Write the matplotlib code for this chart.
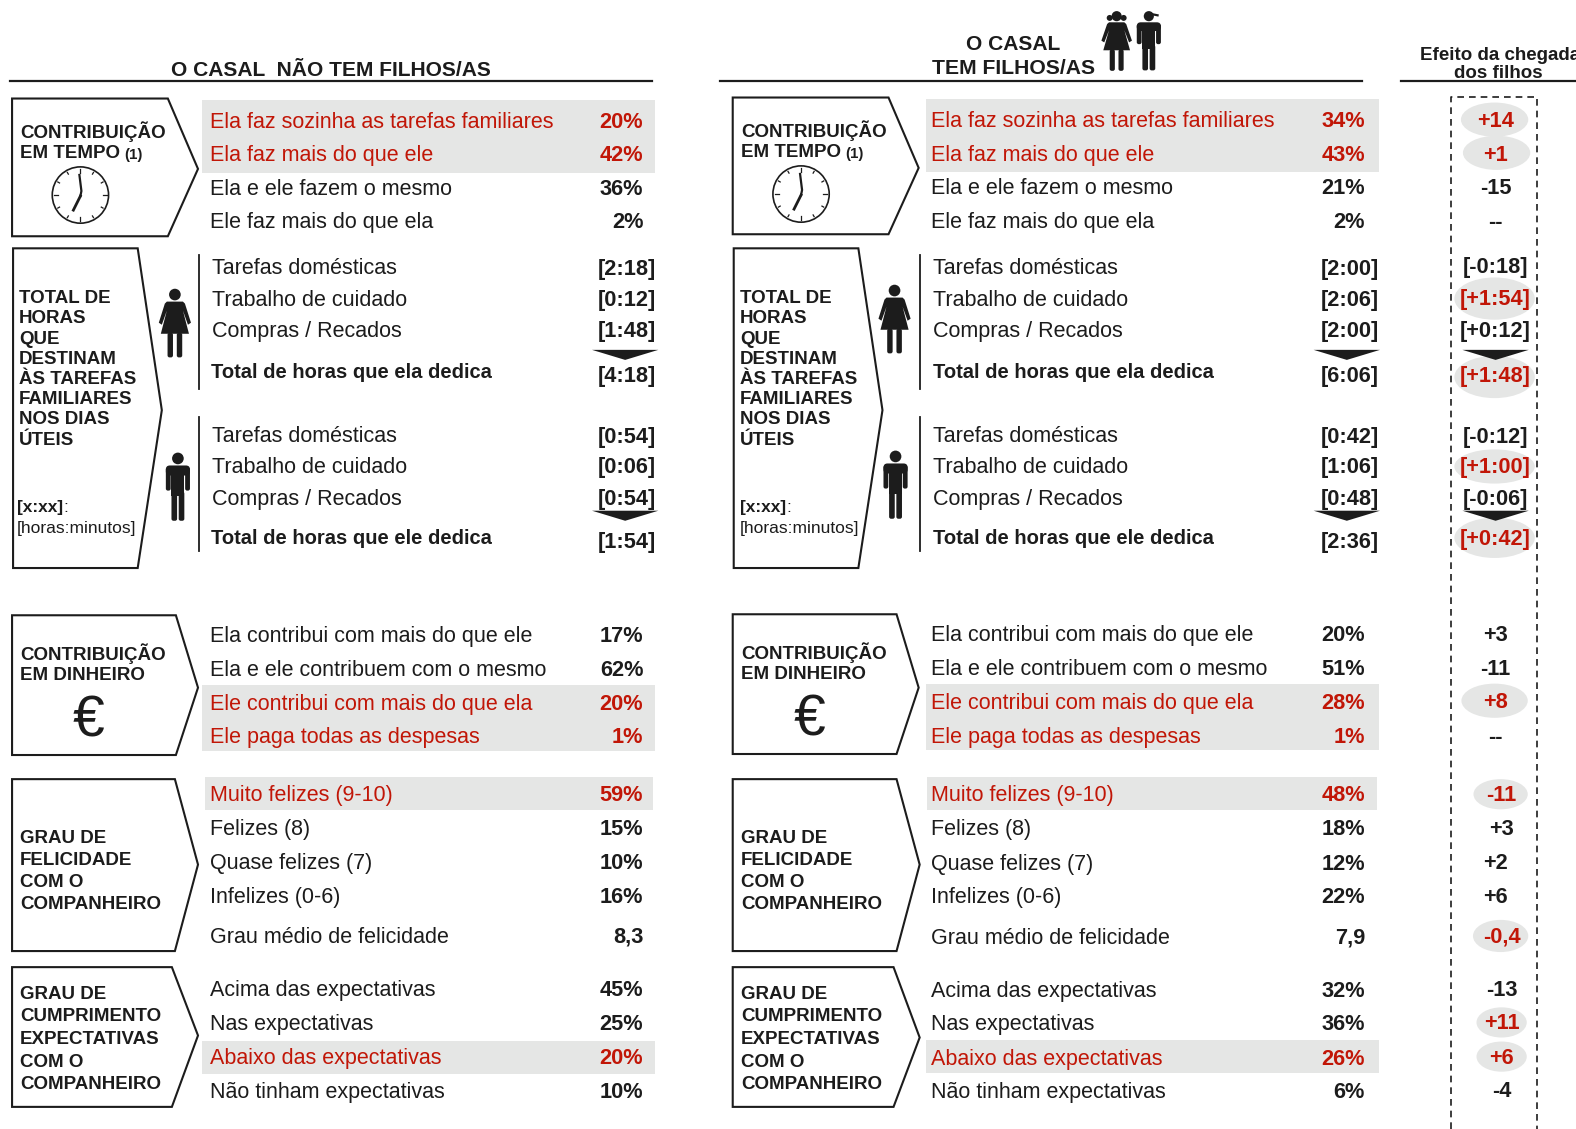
from matplotlib import pyplot as plt
from matplotlib.patches import Polygon, Circle, Ellipse, Rectangle, FancyBboxPatch
import numpy as np

# text of each block
time_labels = ["Ela faz sozinha as tarefas familiares", "Ela faz mais do que ele",
               "Ela e ele fazem o mesmo", "Ele faz mais do que ela"]
time_none = ["20%", "42%", "36%", "2%"]
time_kids = ["34%", "43%", "21%", "2%"]
time_effect = ["+14", "+1", "-15", "--"]

hours_labels = ["Tarefas domésticas", "Trabalho de cuidado", "Compras / Recados"]
she_none = ["[2:18]", "[0:12]", "[1:48]", "[4:18]"]
she_kids = ["[2:00]", "[2:06]", "[2:00]", "[6:06]"]
she_effect = ["[-0:18]", "[+1:54]", "[+0:12]", "[+1:48]"]
he_none = ["[0:54]", "[0:06]", "[0:54]", "[1:54]"]
he_kids = ["[0:42]", "[1:06]", "[0:48]", "[2:36]"]
he_effect = ["[-0:12]", "[+1:00]", "[-0:06]", "[+0:42]"]

money_labels = ["Ela contribui com mais do que ele", "Ela e ele contribuem com o mesmo",
                "Ele contribui com mais do que ela", "Ele paga todas as despesas"]
money_none = ["17%", "62%", "20%", "1%"]
money_kids = ["20%", "51%", "28%", "1%"]
money_effect = ["+3", "-11", "+8", "--"]

happy_labels = ["Muito felizes (9-10)", "Felizes (8)", "Quase felizes (7)",
                "Infelizes (0-6)", "Grau médio de felicidade"]
happy_none = ["59%", "15%", "10%", "16%", "8,3"]
happy_kids = ["48%", "18%", "12%", "22%", "7,9"]
happy_effect = ["-11", "+3", "+2", "+6", "-0,4"]

expect_labels = ["Acima das expectativas", "Nas expectativas",
                 "Abaixo das expectativas", "Não tinham expectativas"]
expect_none = ["45%", "25%", "20%", "10%"]
expect_kids = ["32%", "36%", "26%", "6%"]
expect_effect = ["-13", "+11", "+6", "-4"]

RED = "#C11607"
BLACK = "#1c1c1c"
GREY = "#E5E6E5"
ROW = 15.5
VAL = 15.7
TOTAL = 14.5
BOX = 13.5

plt.rcParams["font.family"] = ["Liberation Sans", "DejaVu Sans"]
fig = plt.figure(figsize=(15.76, 11.29), dpi=100)
ax = fig.add_axes([0, 0, 1, 1])
ax.set_xlim(0, 1568)
ax.set_ylim(1123, 0)
ax.axis("off")


def put(x, y, s, size=ROW, color=BLACK, weight="normal", ha="left"):
    ax.text(x, y, s, fontsize=size, color=color, fontweight=weight, ha=ha, va="center", zorder=4)


def band(x0, x1, y0, y1):
    ax.add_patch(Rectangle((x0, y0), x1 - x0, y1 - y0, fc=GREY, ec="none", zorder=0))


def rows(x, xv, ys, labels, values, red=(), bold_label=(), value_ys=None):
    value_ys = value_ys or ys
    for i, (lab, val) in enumerate(zip(labels, values)):
        c = RED if i in red else BLACK
        if i in bold_label:
            put(x, ys[i] + 1, lab, size=TOTAL, color=c, weight="bold")
        else:
            put(x + 0.5, ys[i] + 1.5, lab, color=c)
        put(xv + 1, value_ys[i] + 1.5, val, size=VAL, color=c, weight="bold", ha="right")


def effects(ys, values, xs, red=()):
    for i, val in enumerate(values):
        put(xs[i], ys[i] + 1.5, val, size=VAL, color=RED if i in red else BLACK, weight="bold", ha="center")


def box(x0, x1, xt, y0, y1, ytip):
    ax.add_patch(Polygon([(x0, y0), (x1, y0), (xt, ytip), (x1, y1), (x0, y1)],
                         closed=True, fc="white", ec=BLACK, lw=1.5, zorder=1))


def box_text(x, y, lines, step):
    for i, s in enumerate(lines):
        put(x, y + i * step, s, size=BOX, weight="bold")


def clock(cx, cy, r=28):
    ax.add_patch(Circle((cx, cy), r, fc="white", ec=BLACK, lw=1.2, zorder=2))
    for a in np.arange(0, 360, 30):
        t = np.radians(a)
        r0 = r - (6 if a % 90 == 0 else 4)
        ax.plot([cx + r0 * np.sin(t), cx + (r - 2) * np.sin(t)],
                [cy - r0 * np.cos(t), cy - (r - 2) * np.cos(t)], color=BLACK, lw=0.9, zorder=3)
    ax.plot([cx - 1, cx + 1, cx], [cy - 20, cy - 4, cy + 1], color=BLACK, lw=1.6, zorder=3)
    ax.plot([cx, cx - 7], [cy + 1, cy + 15], color=BLACK, lw=2, zorder=3)


def person_legs(cx, top, s, gap, width):
    for sign in (-1, 1):
        x = cx + sign * gap - width / 2
        ax.add_patch(FancyBboxPatch((x, top), width, s, boxstyle="round,pad=0,rounding_size=2",
                                    fc=BLACK, ec="none", zorder=3))


def woman(cx, top, k=1.0, w=1.0, pigtails=False):
    ax.add_patch(Circle((cx, top + 7 * k), 5.8 * k, fc=BLACK, ec="none", zorder=3))
    if pigtails:
        for sign in (-1, 1):
            ax.add_patch(Circle((cx + sign * 8 * k, top + 9 * k), 3.4 * k, fc=BLACK, ec="none", zorder=3))
    p = [(-8, 14), (8, 14), (10, 16), (16, 35), (13, 37), (8, 23), (14, 46), (-14, 46),
         (-8, 23), (-13, 37), (-16, 35), (-10, 16)]
    ax.add_patch(Polygon([(cx + a * w, top + b * k) for a, b in p], closed=True, fc=BLACK, ec="none", zorder=3))
    person_legs(cx, top + 45 * k, 24.5 * k, 4.6 * w, 5.4 * w)


def man(cx, top, k=1.0, w=1.0, cap=False):
    ax.add_patch(Circle((cx, top + 7 * k), 5.8 * k, fc=BLACK, ec="none", zorder=3))
    if cap:
        ax.plot([cx, cx + 10 * k], [top + 4 * k, top + 6 * k], color=BLACK, lw=1.6, zorder=3)
    ax.add_patch(FancyBboxPatch((cx - 12 * w, top + 14 * k), 24 * w, 10 * k,
                                boxstyle="round,pad=0,rounding_size=4", fc=BLACK, ec="none", zorder=3))
    for sign in (-1, 1):
        x = cx + sign * 9.6 * w - 2.4 * w
        ax.add_patch(FancyBboxPatch((x, top + 16 * k), 4.8 * w, 23 * k,
                                    boxstyle="round,pad=0,rounding_size=2", fc=BLACK, ec="none", zorder=3))
    ax.add_patch(Rectangle((cx - 6.4 * w, top + 16 * k), 12.8 * w, 28 * k, fc=BLACK, ec="none", zorder=3))
    person_legs(cx, top + 40 * k, 29 * k, 3.6 * w, 5.6 * w)


def chevron(cx, y, w):
    ax.add_patch(Polygon([(cx - w / 2, y), (cx + w / 2, y), (cx, y + 10)],
                         closed=True, fc=BLACK, ec="none", zorder=3))


# headers
put(329, 70.5, "O CASAL  NÃO TEM FILHOS/AS", size=15.1, weight="bold", ha="center")
put(1008, 44, "O CASAL", size=15.1, weight="bold", ha="center")
put(1008, 68, "TEM FILHOS/AS", size=15.2, weight="bold", ha="center")
put(1413, 55, "Efeito da chegada", size=13.5, weight="bold")
put(1491, 73, "dos filhos", size=13.5, weight="bold", ha="center")
for x0, x1 in [(10, 649), (716, 1355), (1394, 1568)]:
    ax.plot([x0, x1], [81, 81], color=BLACK, lw=1.6)
woman(1111, 10, k=0.87, w=0.95, pigtails=True)
man(1143, 10, k=0.87, w=1.0, cap=True)

# grey bands
for y0, y1 in [(99, 172), (681, 747), (1035, 1068)]:
    band(201, 652, y0, y1)
band(204, 650, 773, 806)
for y0, y1 in [(98, 171), (680, 746), (1034, 1067)]:
    band(921, 1372, y0, y1)
band(922, 1370, 773, 806)

# left column
box(12, 167, 197, 98, 235, 168)
box(13, 137, 161, 247, 565, 408)
box(12, 175, 197, 612, 751, 684)
box(12, 174, 197, 775, 946, 860)
box(12, 171, 197, 962, 1101, 1030)
# right column
box(729, 884, 914, 97, 233, 167)
box(730, 854, 878, 247, 565, 408)
box(729, 892, 914, 611, 750, 684)
box(729, 892, 915, 775, 946, 860)
box(729, 889, 915, 962, 1101, 1032)

for dx, dy in [(0, 0), (717, -1)]:
    put(20 + dx, 131 + dy, "CONTRIBUIÇÃO", size=BOX, weight="bold")
    put(20 + dx, 153 + dy, "EM TEMPO", size=BOX, weight="bold")
    put(124 + dx, 154 + dy, "(1)", size=10.8, weight="bold")
    clock(80 + dx, 194 + dy)
    box_text(19 + dx, 297,
             ["TOTAL DE", "HORAS", "QUE", "DESTINAM", "ÀS TAREFAS", "FAMILIARES", "NOS DIAS", "ÚTEIS"], 20.1)
    put(17 + dx + (2 if dx else 0), 505, "[x:xx]", size=12.4, weight="bold")
    put(63 + dx + (2 if dx else 0), 505, ":", size=12.4)
    put(17 + dx + (2 if dx else 0), 526, "[horas:minutos]", size=12.5)
    box_text(20 + dx, 650 + (0 if not dx else -1), ["CONTRIBUIÇÃO", "EM DINHEIRO"], 21.5)
    put(88 + dx, 718 + dy, "€", size=41, ha="center")
    box_text(20 + dx, 834, ["GRAU DE", "FELICIDADE", "COM O", "COMPANHEIRO"], 22)
    box_text(20 + dx, 989, ["GRAU DE", "CUMPRIMENTO", "EXPECTATIVAS", "COM O", "COMPANHEIRO"], 22.5)

# contributions in time
rows(208, 639, [120, 153, 187, 220], time_labels, time_none, red=(0, 1))
rows(926, 1357, [119, 153, 186, 220], time_labels, time_kids, red=(0, 1))

# hours
hy_she = [266, 297, 328, 370]
hy_she_v = [267, 297, 328, 373]
hy_he = [433, 464, 495, 535]
hy_he_v = [434, 464, 495, 538]
she_labels = hours_labels + ["Total de horas que ela dedica"]
he_labels = hours_labels + ["Total de horas que ele dedica"]
rows(210, 652, hy_she, she_labels, she_none, bold_label=(3,), value_ys=hy_she_v)
rows(210, 652, hy_he, he_labels, he_none, bold_label=(3,), value_ys=hy_he_v)
rows(928, 1371, hy_she, she_labels, she_kids, bold_label=(3,), value_ys=hy_she_v)
rows(928, 1371, hy_he, he_labels, he_kids, bold_label=(3,), value_ys=hy_he_v)
for x in (198, 915):
    ax.plot([x, x], [254, 387], color=BLACK, lw=1.3)
    ax.plot([x, x], [415, 548], color=BLACK, lw=1.3)
for y in (348, 508):
    chevron(622, y, 66)
    chevron(1340, y, 66)
    chevron(1488, y, 66)
woman(174, 286)
man(177, 449)
woman(890, 282)
man(891, 447)

# money, happiness, expectations
rows(208, 639, [632, 665, 699, 732], money_labels, money_none, red=(2, 3))
rows(926, 1357, [631, 664, 698, 732], money_labels, money_kids, red=(2, 3))
rows(208, 639, [790, 824, 857, 891, 931], happy_labels, happy_none, red=(0,))
rows(926, 1357, [790, 824, 858, 891, 932], happy_labels, happy_kids, red=(0,))
rows(208, 639, [984, 1018, 1051, 1085], expect_labels, expect_none, red=(2,))
rows(926, 1357, [985, 1018, 1052, 1085], expect_labels, expect_kids, red=(2,))

# effect column
ax.plot([1444, 1444, 1529, 1529], [1123, 96, 96, 1123], color=BLACK, lw=1.2, ls=(0, (4, 3)))
for cx, cy, w, h in [(1487, 119, 67, 34), (1489, 152, 67, 34), (1487, 297, 80, 42), (1487, 375, 80, 42),
                     (1487, 464, 80, 34), (1487, 535, 80, 40), (1487, 697, 66, 34), (1493, 790, 54, 30),
                     (1493, 931, 55, 32), (1494, 1017, 50, 30), (1494, 1051, 50, 30)]:
    ax.add_patch(Ellipse((cx, cy), w, h, fc=GREY, ec="none", zorder=1))
effects([119, 153, 186, 220], time_effect, [1488] * 4, red=(0, 1))
effects([265, 296, 328, 373], she_effect, [1488] * 4, red=(1, 3))
effects([434, 464, 495, 535], he_effect, [1488] * 4, red=(1, 3))
effects([631, 664, 697, 732], money_effect, [1488] * 4, red=(2,))
effects([790, 824, 857, 891, 931], happy_effect, [1494, 1494, 1488, 1488, 1494], red=(0, 4))
effects([984, 1017, 1051, 1084], expect_effect, [1494] * 4, red=(1, 2))

plt.savefig("out.png", dpi=100)
plt.close()
